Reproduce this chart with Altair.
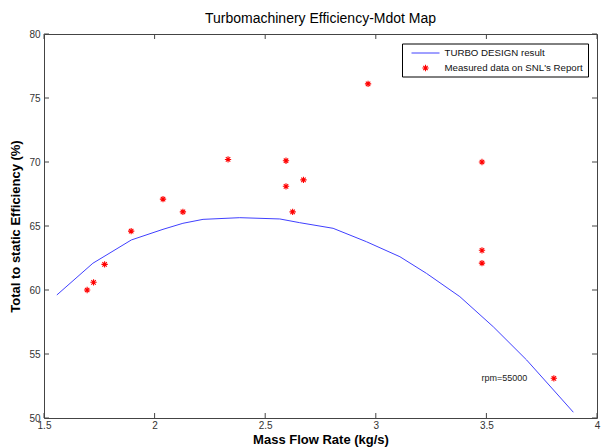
import altair as alt
import pandas as pd

# Model curve (TURBO DESIGN result)
curve_mdot = [1.558, 1.721, 1.895, 2.038, 2.128, 2.219, 2.385, 2.566, 2.656, 2.807,
              2.958, 3.109, 3.229, 3.380, 3.531, 3.682, 3.840, 3.893]
curve_eff = [59.61, 62.09, 63.91, 64.74, 65.21, 65.52, 65.65, 65.55, 65.26, 64.82,
             63.77, 62.60, 61.30, 59.48, 57.13, 54.53, 51.48, 50.45]

# Measured data on SNL's report
meas_mdot = [1.695, 1.724, 1.774, 1.894, 2.038, 2.128, 2.332, 2.594, 2.594, 2.624,
             2.673, 2.965, 3.480, 3.480, 3.480, 3.805]
meas_eff = [60.0, 60.6, 62.0, 64.6, 67.1, 66.1, 70.2, 70.1, 68.1, 66.1,
            68.6, 76.1, 70.0, 63.1, 62.1, 53.1]

# Annotation
note_text = ["rpm=55000"]
note_mdot = [3.478]
note_eff = [53.1]

x_ticks = [1.5, 2, 2.5, 3, 3.5, 4]
y_ticks = [50, 55, 60, 65, 70, 75, 80]
legend_labels = ["TURBO DESIGN result", "Measured data on SNL's Report"]

W, H = 553, 384
FONT = "Liberation Sans"
ASTERISK = "M-1,0L1,0M0,-1L0,1M-0.7,-0.7L0.7,0.7M-0.7,0.7L0.7,-0.7"

curve_df = pd.DataFrame({"mdot": curve_mdot, "eff": curve_eff})
meas_df = pd.DataFrame({"mdot": meas_mdot, "eff": meas_eff})
note_df = pd.DataFrame({"mdot": note_mdot, "eff": note_eff, "t": note_text})
xt_df = pd.DataFrame({"v": x_ticks})
yt_df = pd.DataFrame({"v": y_ticks})

xscale = alt.Scale(domain=[1.5, 4], nice=False, zero=False)
yscale = alt.Scale(domain=[50, 80], nice=False, zero=False)

xaxis = alt.Axis(values=x_ticks, title="Mass Flow Rate (kg/s)", ticks=False, domain=False,
                 grid=False, labelFontSize=10, labelColor="#333", labelPadding=2,
                 titleFontSize=13, titleFontWeight="bold", titleColor="#000", titlePadding=3,
                 labelFont=FONT, titleFont=FONT, format="~g", labelFlush=False)
yaxis = alt.Axis(values=y_ticks, title="Total to static Efficiency (%)", ticks=False, domain=False,
                 grid=False, labelFontSize=10, labelColor="#333", labelPadding=4,
                 titleFontSize=13, titleFontWeight="bold", titleColor="#000", titlePadding=6,
                 labelFont=FONT, titleFont=FONT, format="d", labelFlush=False)

line = alt.Chart(curve_df).mark_line(color="#4040ff", strokeWidth=1).encode(
    x=alt.X("mdot:Q", scale=xscale, axis=xaxis),
    y=alt.Y("eff:Q", scale=yscale, axis=yaxis),
    order=alt.Order("mdot:Q"),
)

pts = alt.Chart(meas_df).mark_point(shape=ASTERISK, filled=False, color="#ff0000",
                                    strokeWidth=1.1, size=40, opacity=1).encode(
    x=alt.X("mdot:Q", scale=xscale),
    y=alt.Y("eff:Q", scale=yscale),
)

note = alt.Chart(note_df).mark_text(align="left", baseline="middle", fontSize=9,
                                    font=FONT, color="#222").encode(
    x=alt.X("mdot:Q", scale=xscale),
    y=alt.Y("eff:Q", scale=yscale),
    text="t:N",
)

tick_color = "#444"
xt_bot = alt.Chart(xt_df).mark_rule(color=tick_color).encode(
    x=alt.X("v:Q", scale=xscale), y=alt.value(H), y2=alt.value(H - 5))
xt_top = alt.Chart(xt_df).mark_rule(color=tick_color).encode(
    x=alt.X("v:Q", scale=xscale), y=alt.value(0), y2=alt.value(5))
yt_left = alt.Chart(yt_df).mark_rule(color=tick_color).encode(
    y=alt.Y("v:Q", scale=yscale), x=alt.value(0), x2=alt.value(5))
yt_right = alt.Chart(yt_df).mark_rule(color=tick_color).encode(
    y=alt.Y("v:Q", scale=yscale), x=alt.value(W), x2=alt.value(W - 5))

# Legend (manual)
leg_df = pd.DataFrame({"label": legend_labels})
leg_box = alt.Chart(leg_df.head(1)).mark_rect(fill="white", stroke="#000", strokeWidth=1).encode(
    x=alt.value(358.5), x2=alt.value(544.5), y=alt.value(10), y2=alt.value(43))
leg_line = alt.Chart(leg_df.head(1)).mark_rule(color="#4040ff", strokeWidth=1).encode(
    x=alt.value(367.5), x2=alt.value(395.5), y=alt.value(19))
leg_pt = alt.Chart(leg_df.head(1)).mark_point(shape=ASTERISK, filled=False, color="#ff0000",
                                              strokeWidth=1.1, size=40, opacity=1).encode(
    x=alt.value(381.5), y=alt.value(34))
leg_t1 = alt.Chart(leg_df.head(1)).mark_text(align="left", baseline="middle", fontSize=9.7,
                                             font=FONT, color="#111").encode(
    x=alt.value(400.5), y=alt.value(19), text="label:N")
leg_t2 = alt.Chart(leg_df.tail(1)).mark_text(align="left", baseline="middle", fontSize=9.7,
                                             font=FONT, color="#111").encode(
    x=alt.value(400.5), y=alt.value(34), text="label:N")

chart = alt.layer(
    line, pts, note, xt_bot, xt_top, yt_left, yt_right,
    leg_box, leg_line, leg_pt, leg_t1, leg_t2,
).properties(
    width=W, height=H,
    title=alt.TitleParams("Turbomachinery Efficiency-Mdot Map", fontSize=14, fontWeight="normal",
                          font=FONT, color="#000", anchor="middle", offset=3),
    padding={"left": 36, "top": 26, "right": 4, "bottom": 30},
    autosize=alt.AutoSizeParams(type="none"),
    background="white",
).configure_view(stroke="#444", strokeWidth=1)

chart.save("out.html", embed_options={"renderer": "svg", "actions": False})
